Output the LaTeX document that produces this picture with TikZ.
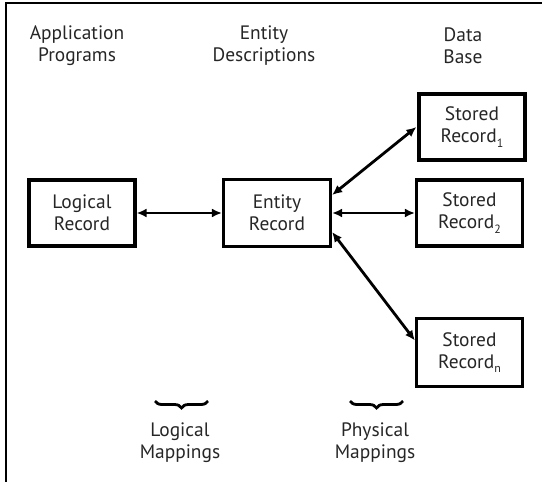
\documentclass[tikz,border=0pt]{standalone}
\usepackage{fontspec}
\setmainfont{PT Sans}
\usetikzlibrary{arrows.meta,decorations.pathreplacing}
\newcommand{\lowsub}[1]{\raisebox{-0.45ex}{\fontsize{12}{12}\selectfont #1}}
\tikzset{
  lbl/.style={align=center, font=\fontsize{19.5}{22}\selectfont, text=black!85, inner sep=0pt},
  rec/.style={draw, line width=3.2bp, minimum width=106bp, minimum height=66bp, align=center,
              font=\fontsize{19.5}{22}\selectfont, text=black!85, inner sep=0pt},
  link/.style={line width=2.8bp, {Latex[length=10bp,width=9bp]}-{Latex[length=10bp,width=9bp]}},
  brc/.style={line width=2.8bp, decorate, decoration={brace, amplitude=7bp, mirror}},
}
\begin{document}
\begin{tikzpicture}[x=1bp,y=-1bp]
\useasboundingbox (0,0) rectangle (542,482);
\draw[line width=2bp] (6,482) -- (6,3) -- (542,3);

\node[lbl] (h1) at (77,46) {Application\\Programs};
\node[lbl] (h2) at (264,46) {Entity\\Descriptions};
\node[lbl] (h3) at (463,46) {Data\\Base};

\node[rec] (lr) at (82,213) {Logical\\Record};
\node[rec, minimum width=107bp, minimum height=67bp] (er) at (277,213) {Entity\\Record};
\node[rec] (s1) at (472,127) {Stored\\Record\lowsub{1}};
\node[rec] (s2) at (469.5,213) {Stored\\Record\lowsub{2}};
\node[rec, minimum height=68bp] (sn) at (469.5,352.5) {Stored\\Record\lowsub{n}};

\draw[link] (lr.east) -- (er.west);
\draw[link] ([yshift=18bp]er.east) -- ([xshift=-1bp]s1.west);
\draw[link] (er.east) -- (s2.west);
\draw[link] ([yshift=-19bp]er.east) -- ([yshift=12bp]sn.west);

\coordinate (b1a) at (155,401);
\coordinate (b1b) at (208,401);
\coordinate (b2a) at (350,401);
\coordinate (b2b) at (403,401);
\draw[brc] (b1a) -- (b1b);
\draw[brc] (b2a) -- (b2b);

\node[lbl] (m1) at (180,443) {Logical\\Mappings};
\node[lbl] (m2) at (375,443) {Physical\\Mappings};
\end{tikzpicture}
\end{document}
